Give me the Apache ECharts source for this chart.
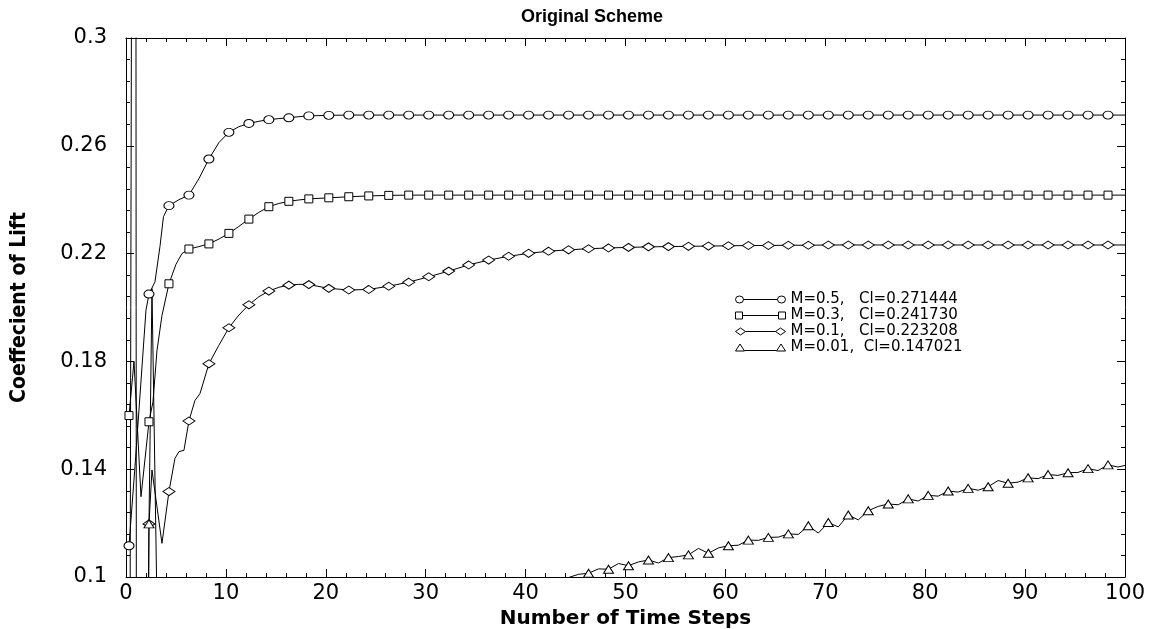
<!DOCTYPE html>
<html>
<head>
    <meta charset="utf-8">
    <style>
        html, body {
            margin: 0;
            padding: 0;
            width: 100%;
            height: 100%;
            background: #fff;
        }

        #chart-panel {
            width: 1160px;
            height: 629px;
        }
    </style>
</head>
<body>
    <div id="chart-panel"></div>
    <script type="text/javascript" src="https://cdn.jsdelivr.net/npm/echarts@6/dist/echarts.min.js"></script>
    <script type="text/javascript">
        // legend names
        var names = [
            'M=0.5,   Cl=0.271444',
            'M=0.3,   Cl=0.241730',
            'M=0.1,   Cl=0.223208',
            'M=0.01,  Cl=0.147021'
        ];

        // start-up part of each run, [step, Cl]; values outside 0.1..0.3 get clipped
        var m05Head = [[0.3, 0.1116], [0.9, 0.141], [2.0, 0.199], [2.3, 0.205], [2.9, 0.2095], [3.4, 0.2226],
            [3.75, 0.2337], [4.3, 0.2378], [5.3, 0.2400], [6.3, 0.2417], [7.3, 0.2478], [8.3, 0.2551],
            [9.3, 0.2612], [10.3, 0.2650], [11.3, 0.2671], [12.3, 0.2683], [13.3, 0.2691], [14.3, 0.2697],
            [15.3, 0.2701], [16.3, 0.2704], [17.3, 0.2708], [18.3, 0.2711]];
        var m03Head = [[0.3, 0.1599], [0.8, 0.180], [1.5, 0.1298], [2.3, 0.1576], [2.7, 0.165], [3.1, 0.184],
            [3.6, 0.197], [4.3, 0.2088], [5.0, 0.2160], [5.6, 0.2200], [6.3, 0.2217], [7.3, 0.2226],
            [8.3, 0.2236], [9.3, 0.2254], [10.3, 0.2275], [11.3, 0.2301], [12.3, 0.2328], [13.3, 0.2353],
            [14.3, 0.2374], [15.3, 0.2386], [16.3, 0.2394], [17.3, 0.2399], [18.3, 0.2403]];
        var m01Head = [[0.3, -0.2], [1.3, -0.3], [2.3, 0.1197], [2.6, 0.1397], [3.6, 0.1125], [4.3, 0.1317],
            [4.9, 0.1440], [5.3, 0.1465], [5.8, 0.1470], [6.3, 0.1579], [6.9, 0.1655], [7.4, 0.1680],
            [8.3, 0.1791], [9.3, 0.1860], [10.3, 0.1925], [11.3, 0.1972], [12.3, 0.2010], [13.3, 0.2040],
            [14.3, 0.2061], [15.3, 0.2075], [16.3, 0.2083], [17.3, 0.2086], [18.3, 0.2085]];
        var m001Head = [[0.3, -0.1], [0.9, 0.9], [1.2, -0.9], [2.3, 0.1197], [2.6, 0.207], [3.1, 0.09],
            [4.3, 0.03], [20.3, 0.05], [40.3, 0.09]];

        // later part: every 2nd step from 20.3 (m001: every step from 43.3)
        var m05Tail = [0.2713, 0.2714, 0.2714, 0.2714, 0.2714, 0.2714, 0.2714, 0.2714, 0.2714, 0.2714,
            0.2714, 0.2714, 0.2714, 0.2714, 0.2714, 0.2714, 0.2714, 0.2714, 0.2714, 0.2714,
            0.2714, 0.2714, 0.2714, 0.2714, 0.2714, 0.2714, 0.2714, 0.2714, 0.2714, 0.2714,
            0.2714, 0.2714, 0.2714, 0.2714, 0.2714, 0.2714, 0.2714, 0.2714, 0.2714, 0.2714];
        var m03Tail = [0.2407, 0.2411, 0.2414, 0.2416, 0.2417, 0.2417, 0.2417, 0.2417, 0.2417, 0.2417,
            0.2417, 0.2417, 0.2417, 0.2417, 0.2417, 0.2417, 0.2417, 0.2417, 0.2417, 0.2417,
            0.2417, 0.2417, 0.2417, 0.2417, 0.2417, 0.2417, 0.2417, 0.2417, 0.2417, 0.2417,
            0.2417, 0.2417, 0.2417, 0.2417, 0.2417, 0.2417, 0.2417, 0.2417, 0.2417, 0.2417];
        var m01Tail = [0.2071, 0.2065, 0.2067, 0.2079, 0.2094, 0.2114, 0.2135, 0.2158, 0.2176, 0.2190,
            0.2201, 0.2209, 0.2214, 0.2218, 0.2221, 0.2223, 0.2225, 0.2226, 0.2227, 0.2228,
            0.2229, 0.2230, 0.2230, 0.2231, 0.2231, 0.2232, 0.2232, 0.2232, 0.2232, 0.2232,
            0.2232, 0.2232, 0.2232, 0.2232, 0.2232, 0.2232, 0.2232, 0.2232, 0.2232, 0.2232];
        var m001Tail = [0.0975, 0.0998, 0.1010, 0.1014, 0.1030, 0.1029, 0.1050, 0.1042, 0.1056, 0.1063,
            0.1052, 0.1072, 0.1076, 0.1082, 0.1106, 0.1088, 0.1108, 0.1116, 0.1118, 0.1137,
            0.1136, 0.1147, 0.1148, 0.1160, 0.1158, 0.1190, 0.1163, 0.1202, 0.1186, 0.1230,
            0.1212, 0.1246, 0.1262, 0.1271, 0.1268, 0.1290, 0.1282, 0.1303, 0.1300, 0.1319,
            0.1315, 0.1329, 0.1322, 0.1335, 0.1358, 0.1348, 0.1352, 0.1368, 0.1365, 0.1380,
            0.1377, 0.1387, 0.1388, 0.1402, 0.1395, 0.1416, 0.1408];
        var lastCl = [0.2714, 0.2417, 0.2232, 0.1414];

        var xTicks = [0, 10, 20, 30, 40, 50, 60, 70, 80, 90, 100];
        var yTicks = [0.1, 0.14, 0.18, 0.22, 0.26, 0.3];

        function buildData (head, tail, start, step, last) {
            var out = head.slice();
            for (var i = 0; i < tail.length; i++) {
                out.push([+(start + i * step).toFixed(1), tail[i]]);
            }
            out.push([100, last]);
            return out;
        }

        // a marker on every other step (0.3, 2.3, 4.3 ...)
        function isMark (x) {
            var r = (x - 0.3) / 2;
            return Math.abs(r - Math.round(r)) < 0.01;
        }

        var symbols = ['circle', 'rect', 'diamond', 'triangle'];
        var symbolSizes = [[10, 8], [8, 8], [12, 8], [10, 8]];
        var icons = [
            'path://M0,4A4,3.5,0,1,1,8,4A4,3.5,0,1,1,0,4ZM8,4L42,4M42,4A4,3.5,0,1,1,50,4A4,3.5,0,1,1,42,4Z',
            'path://M0,0.5H7V7.5H0ZM7,4H43M43,0.5H50V7.5H43Z',
            'path://M0,4L5,0.5L10,4L5,7.5ZM10,4H40M40,4L45,0.5L50,4L45,7.5Z',
            'path://M0,7.5L4.5,0.5L9,7.5ZM9,7H41M41,7.5L45.5,0.5L50,7.5Z'
        ];

        var seriesData = [
            buildData(m05Head, m05Tail, 20.3, 2, lastCl[0]),
            buildData(m03Head, m03Tail, 20.3, 2, lastCl[1]),
            buildData(m01Head, m01Tail, 20.3, 2, lastCl[2]),
            buildData(m001Head, m001Tail, 43.3, 1, lastCl[3])
        ];

        var dom = document.getElementById('chart-panel');
        var myChart = echarts.init(dom, null, { renderer: 'canvas' });

        var tickFont = { fontFamily: 'DejaVu Sans', fontSize: 21, color: '#000' };

        function makeSeries (i) {
            return {
                name: names[i],
                type: 'line',
                data: seriesData[i],
                showAllSymbol: true,
                symbol: function (v) {
                    return isMark(v[0]) ? symbols[i] : 'none';
                },
                symbolSize: symbolSizes[i],
                clip: true,
                lineStyle: { color: '#000', width: 1 },
                itemStyle: { color: '#fff', borderColor: '#000', borderWidth: 1 },
                emphasis: { disabled: true },
                xAxisIndex: 0,
                yAxisIndex: 0
            };
        }

        var axisX = {
            type: 'value',
            min: 0,
            max: 100,
            interval: 10,
            axisLine: { show: true, onZero: false, lineStyle: { color: '#000', width: 1 } },
            axisTick: { show: true, inside: true, length: 8, lineStyle: { color: '#000' } },
            minorTick: { show: true, splitNumber: 5, length: 4, lineStyle: { color: '#000' } },
            splitLine: { show: false },
            minorSplitLine: { show: false }
        };
        var axisY = {
            type: 'value',
            min: 0.1,
            max: 0.3,
            interval: 0.04,
            axisLine: { show: true, onZero: false, lineStyle: { color: '#000', width: 1 } },
            axisTick: { show: true, inside: true, length: 8, lineStyle: { color: '#000' } },
            minorTick: { show: true, splitNumber: 5, length: 4, lineStyle: { color: '#000' } },
            splitLine: { show: false },
            minorSplitLine: { show: false }
        };

        var option = {
            animation: false,
            backgroundColor: '#fff',
            title: {
                text: 'Original Scheme',
                left: 516,
                top: 3,
                textStyle: { fontFamily: 'Liberation Sans', fontWeight: 'bold', fontSize: 18, color: '#000' }
            },
            grid: { left: 126, right: 35, top: 38, bottom: 52, outerBoundsMode: 'none', containLabel: false },
            legend: {
                orient: 'vertical',
                left: 735,
                top: 292,
                padding: 0,
                itemWidth: 50,
                itemHeight: 8,
                itemGap: 1,
                selectedMode: false,
                itemStyle: { color: '#fff', borderColor: '#000', borderWidth: 1 },
                textStyle: { fontFamily: 'DejaVu Sans', fontSize: 15, lineHeight: 14, color: '#000' },
                data: names.map(function (n, i) { return { name: n, icon: icons[i] }; })
            },
            xAxis: [
                Object.assign({}, axisX, {
                    position: 'bottom',
                    name: 'Number of Time Steps',
                    nameLocation: 'middle',
                    nameGap: 28,
                    nameTextStyle: { fontFamily: 'DejaVu Sans', fontWeight: 'bold', fontSize: 20, color: '#000' },
                    axisLabel: Object.assign({ margin: 6, formatter: function (v) { return xTicks.indexOf(v) >= 0 ? String(v) : ''; } }, tickFont)
                }),
                Object.assign({}, axisX, { position: 'top', axisLabel: { show: false } })
            ],
            yAxis: [
                Object.assign({}, axisY, {
                    position: 'left',
                    name: 'Coeffecient of Lift',
                    nameLocation: 'middle',
                    nameGap: 96,
                    nameRotate: 90,
                    nameTextStyle: { fontFamily: 'DejaVu Sans Condensed', fontWeight: 'bold', fontSize: 21, color: '#000' },
                    axisLabel: Object.assign({
                        margin: 19,
                        formatter: function (v) {
                            var t = parseFloat(v.toFixed(2));
                            return yTicks.indexOf(t) >= 0 ? String(t) : '';
                        }
                    }, tickFont)
                }),
                Object.assign({}, axisY, { position: 'right', axisLabel: { show: false } })
            ],
            series: [makeSeries(0), makeSeries(1), makeSeries(2), makeSeries(3)]
        };

        myChart.setOption(option);
        window.addEventListener('resize', function () {
            myChart.resize();
        });
    </script>
</body>
</html>
